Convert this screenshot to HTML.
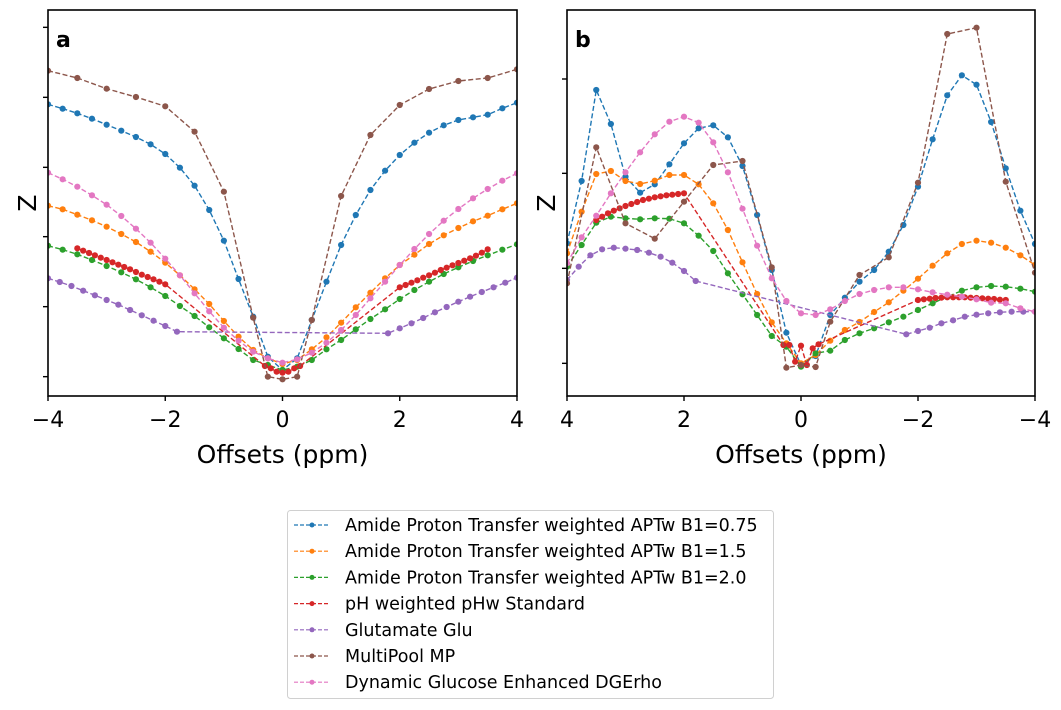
<!DOCTYPE html>
<html><head><meta charset="utf-8"><style>
body{margin:0;background:#fff;}
svg text{font-family:"DejaVu Sans","Liberation Sans",sans-serif;}
</style></head><body>
<svg id="fig" width="1061" height="705" viewBox="0 0 1061 705" xmlns="http://www.w3.org/2000/svg"></svg>
<script>
// ---- data (y values in arbitrary Z units, 0..1200) ----
const colors=["#1f77b4","#ff7f0e","#2ca02c","#d62728","#9467bd","#8c564b","#e377c2"];
const seriesNames=["Amide Proton Transfer weighted APTw B1=0.75","Amide Proton Transfer weighted APTw B1=1.5","Amide Proton Transfer weighted APTw B1=2.0","pH weighted pHw Standard","Glutamate Glu","MultiPool MP","Dynamic Glucose Enhanced DGErho"];
const xQuarter=[-4,-3.75,-3.5,-3.25,-3,-2.75,-2.5,-2.25,-2,-1.75,-1.5,-1.25,-1,-0.75,-0.5,-0.25,0,0.25,0.5,0.75,1,1.25,1.5,1.75,2,2.25,2.5,2.75,3,3.25,3.5,3.75,4];
const xBrown=[-4,-3.5,-3,-2.5,-2,-1.5,-1,-0.5,-0.25,0,0.25,0.5,1,1.5,2,2.5,3,3.5,4];
const xPurple=[-4,-3.8,-3.6,-3.4,-3.2,-3,-2.8,-2.6,-2.4,-2.2,-2,-1.8,1.8,2,2.2,2.4,2.6,2.8,3,3.2,3.4,3.6,3.8,4];
const xRed=[-3.5,-3.4,-3.3,-3.2,-3.1,-3,-2.9,-2.8,-2.7,-2.6,-2.5,-2.4,-2.3,-2.2,-2.1,-2,-0.3,-0.2,-0.1,0,0.1,0.2,0.3,2,2.1,2.2,2.3,2.4,2.5,2.6,2.7,2.8,2.9,3,3.1,3.2,3.3,3.4,3.5];
// panel a
const aBlue=[887,874,860,844,826,808,789,767,738,697,643,570,478,363,250,130,90,125,240,355,465,555,630,688,735,772,802,824,840,848,856,875,892];
const aOrange=[583,572,556,539,520,498,474,445,412,374,332,288,237,190,150,125,108,120,152,188,232,278,322,365,405,436,468,494,516,536,553,572,590];
const aGreen=[463,451,437,420,402,383,362,338,312,282,252,218,185,153,120,105,90,100,120,152,180,212,243,272,303,330,355,378,398,417,434,451,467];
const aRed=[455,448,441,434,427,420,413,406,399,392,384,376,369,362,355,347,102,95,85,82,85,95,102,338,345,352,359,367,374,382,390,397,404,411,418,425,433,442,452];
const aPurple=[365,354,342,328,314,300,286,270,254,238,222,205,200,215,230,246,263,279,295,310,324,338,352,367];
const aBrown=[988,966,934,909,881,805,625,247,70,62,70,240,612,795,885,933,957,966,992];
const aPink=[682,662,640,614,586,552,514,472,424,374,320,266,217,178,145,125,112,122,142,172,210,255,305,355,405,453,498,538,573,605,633,658,680];
// panel b (x listed from +4 down to -4)
const xQuarterB=xQuarter.map(v=>-v);
const xBrownB=xBrown.map(v=>-v);
const xPurpleB=xPurple.map(v=>-v);
const xRedB=xRed.map(v=>-v);
const bBlue=[470,657,930,828,670,622,647,707,770,815,824,788,702,555,390,202,105,132,255,307,355,390,445,525,640,782,914,974,946,834,695,568,468];
const bOrange=[440,565,678,687,657,648,658,675,675,647,590,510,413,318,233,170,110,135,178,210,234,264,293,328,364,403,440,468,478,472,457,434,405];
const bGreen=[400,465,532,550,545,542,545,544,530,493,447,380,317,255,192,160,100,140,148,180,200,215,233,250,270,290,310,328,338,342,340,334,325];
const bRed=[540,550,560,568,575,582,588,594,600,604,608,611,614,616,618,620,165,165,115,163,105,155,167,300,302,304,306,307,308,308,308,308,307,306,305,304,303,301,300];
const bPurple=[360,400,434,452,457,454,450,442,430,412,387,357,197,207,217,230,239,250,256,260,263,265,265,265];
const bBrown=[350,758,530,484,595,705,717,398,97,105,99,235,375,428,652,1098,1117,655,382];
const bPink=[410,488,553,620,683,743,797,835,850,832,773,683,574,463,365,297,260,255,272,297,318,330,338,338,332,323,316,310,302,292,290,275,265];
const xTicks=[-4,-2,0,2,4];
const xTickLabels=["−4","−2","0","2","4"];
const xTickLabelsB=["4","2","0","−2","−4"];
const yTicksA=[1118,908,698,490,280,70];
const yTicksB=[963,680,395,110];

const NS="http://www.w3.org/2000/svg";
const svg=document.getElementById('fig');
function mk(tag,attrs,parent){const e=document.createElementNS(NS,tag);for(const k in attrs)e.setAttribute(k,attrs[k]);(parent||svg).appendChild(e);return e;}
const TOP=10,BOT=396;
function yScale(v){return (1200-v)/3;}

function panel(x0,x1,reversed,label,sets,yt,tickLabels,pname){
  const g=mk('g',{});
  
  
  const xs=v=>reversed? x0+(4-v)*(x1-x0)/8 : x0+(v+4)*(x1-x0)/8;
  const clipId='clip'+label;
  const cp=mk('clipPath',{id:clipId},g);mk('rect',{x:x0,y:TOP,width:x1-x0,height:BOT-TOP},cp);
  const plot=mk('g',{'clip-path':'url(#'+clipId+')'},g);
  sets.forEach(([xsArr,ys,ci,nm])=>{
    const pts=xsArr.map((x,i)=>xs(x).toFixed(1)+','+yScale(ys[i]).toFixed(1)).join(' ');
    const pl=mk('polyline',{points:pts,fill:'none',stroke:colors[ci],'stroke-width':1.4,'stroke-dasharray':'5,2.5'},plot);
    
    
    xsArr.forEach((x,i)=>{
      const c=mk('circle',{cx:xs(x),cy:yScale(ys[i]),r:3.1,fill:colors[ci]},plot);
      
      
    });
  });
  const fr=mk('rect',{x:x0,y:TOP,width:x1-x0,height:BOT-TOP,fill:'none',stroke:'#000','stroke-width':1.6},g);
  
  
  yt.forEach(v=>{const t=mk('line',{x1:x0-5,x2:x0,y1:yScale(v),y2:yScale(v),stroke:'#000','stroke-width':1.4},g);
    });
  xTicks.forEach((v,i)=>{
    const px=reversed? xs(-v):xs(v);
    const t=mk('line',{x1:px,x2:px,y1:BOT,y2:BOT+5,stroke:'#000','stroke-width':1.4},g);
    
    const tx=mk('text',{x:px,y:427,'font-size':22,'text-anchor':'middle',fill:'#000'},g);
    tx.textContent=tickLabels[i];
    
  });
  const pl=mk('text',{x:x0+8,y:47,'font-size':22,'font-weight':'bold',fill:'#000'},g);pl.textContent=label;
  
  const xt=mk('text',{x:(x0+x1)/2,y:463,'font-size':25,'text-anchor':'middle',fill:'#000'},g);xt.textContent='Offsets (ppm)';
  
  const yl=mk('text',{x:0,y:0,'font-size':25,'text-anchor':'middle',fill:'#000',transform:`translate(${x0-12},203) rotate(-90)`},g);yl.textContent='Z';
  
}
panel(48,517,false,'a',[[xQuarter,aBlue,0,'apt-075'],[xQuarter,aOrange,1,'apt-15'],[xQuarter,aGreen,2,'apt-20'],[xRed,aRed,3,'phw'],[xPurple,aPurple,4,'glu'],[xBrown,aBrown,5,'multipool'],[xQuarter,aPink,6,'dge']],yTicksA,xTickLabels,'panel-a');
panel(567,1035,true,'b',[[xQuarterB,bBlue,0,'apt-075'],[xQuarterB,bOrange,1,'apt-15'],[xQuarterB,bGreen,2,'apt-20'],[xRedB,bRed,3,'phw'],[xPurpleB,bPurple,4,'glu'],[xBrownB,bBrown,5,'multipool'],[xQuarterB,bPink,6,'dge']],yTicksB,xTickLabelsB,'panel-b');

// legend
const lg=mk('g',{});


mk('rect',{x:287.5,y:510.5,width:486,height:188,rx:3,fill:'#fff',stroke:'#d0d0d0','stroke-width':1},lg);
seriesNames.forEach((n,i)=>{
  const y=525+i*26.2;
  const e=mk('g',{},lg);
  
  
  mk('line',{x1:294,x2:330,y1:y,y2:y,stroke:colors[i],'stroke-width':1.2,'stroke-dasharray':'4,2'},e);
  mk('circle',{cx:312,cy:y,r:2.5,fill:colors[i]},e);
  const t=mk('text',{x:345,y:y+6,'font-size':17.5,fill:'#000'},e);t.textContent=n;
});
</script>
</body></html>
